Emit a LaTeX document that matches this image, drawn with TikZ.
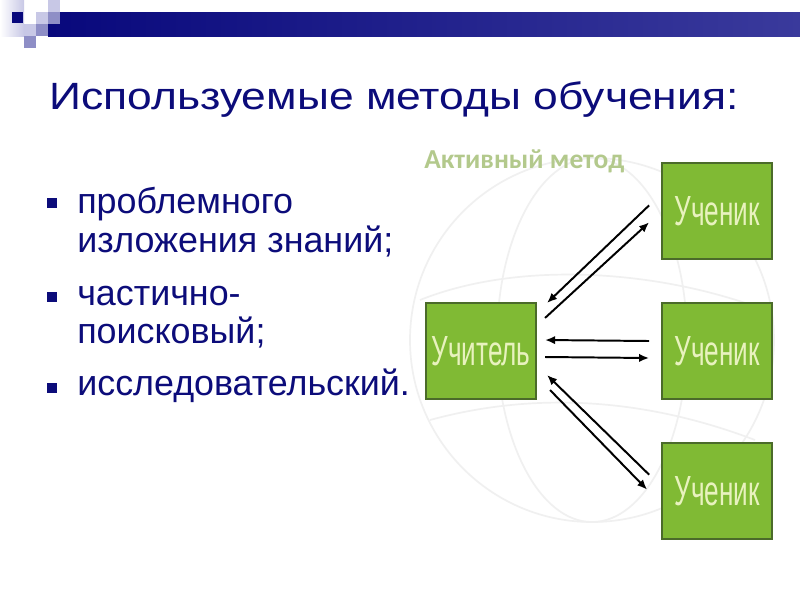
\documentclass[tikz,border=0pt]{standalone}
\usepackage{fontspec}
\setmainfont{Liberation Sans}
\newfontfamily\titlefont[FakeStretch=1.17]{Liberation Sans}
\newfontfamily\rolefont[FakeStretch=0.62]{Liberation Sans}
\newfontfamily\headfont{Carlito}
\usetikzlibrary{positioning,arrows.meta}
\definecolor{navy}{HTML}{0C0C7A}
\definecolor{barleft}{HTML}{08087C}
\definecolor{barright}{HTML}{3A3A9C}
\definecolor{tilemid}{HTML}{8E8EC6}
\definecolor{tilelight}{HTML}{C8C8E6}
\definecolor{leaf}{HTML}{80BA34}
\definecolor{leafline}{HTML}{4B6B2A}
\definecolor{leaftext}{HTML}{E8F2BE}
\definecolor{palegreen}{HTML}{B3C98C}
\tikzset{role/.style={draw=leafline,line width=1.5pt,fill=leaf,minimum width=2.75cm,minimum height=2.4cm,inner sep=0pt,font=\rolefont\fontsize{30}{30}\selectfont,text=leaftext},
item/.style={anchor=base west,inner sep=0pt,text=navy,font=\fontsize{25.5}{28}\selectfont},
dot/.style={fill=navy,minimum size=7pt,inner sep=0pt},
link/.style={draw=black,-{Latex[length=2.5mm,width=2.1mm]},line width=1.4pt},
globe/.style={draw=black!6,line width=1.2pt}}

\begin{document}
\begin{tikzpicture}[x=0.025cm,y=-0.025cm,node distance=1.05cm and 3.1cm]
\useasboundingbox (0,0) rectangle (800,600);
\fill[white] (0,0) rectangle (800,600);
\shade[left color=white,right color=tilelight] (0,0) rectangle (24,36);
\shade[left color=barleft,right color=barright] (48,12) rectangle (800,36);
\fill[barleft] (12,12) rectangle (23,23);
\fill[tilelight] (48,0) rectangle (60,12);
\fill[tilelight] (36,12) rectangle (48,24);
\fill[tilemid] (48,12) rectangle (60,24);
\fill[tilelight] (24,24) rectangle (36,36);
\fill[tilemid] (36,24) rectangle (48,36);
\fill[tilemid] (24,36) rectangle (36,48);
\node[anchor=base west,inner sep=0pt,text=navy,font=\titlefont\fontsize{27}{30}\selectfont] (title) at (49,109) {Используемые методы обучения:};
\node[dot] (b1) at (52,203) {};
\node[dot] (b2) at (52,297) {};
\node[dot] (b3) at (52,388) {};
\node[item] (i1) at (77,213) {проблемного};
\node[item] (i1b) at (77,252) {изложения знаний;};
\node[item] (i2) at (77,305) {частично-};
\node[item] (i2b) at (77,343) {поисковый;};
\node[item] (i3) at (77,395) {исследовательский.};
\draw[globe] (592,340) circle (182);
\draw[globe] (592,340) ellipse (95 and 182);
\draw[globe] (420,300) .. controls (520,260) and (660,270) .. (765,310);
\draw[globe] (430,420) .. controls (540,390) and (650,400) .. (755,440);
\node[anchor=base west,inner sep=0pt,text=palegreen,font=\headfont\bfseries\fontsize{19.5}{22}\selectfont] (head) at (424,168) {Активный метод};
\node[role] (ut) at (481,351) {Учитель};
\node[role,right=of ut] (u2) {Ученик};
\node[role,above=of u2] (u1) {Ученик};
\node[role,below=of u2] (u3) {Ученик};
\draw[link] ([shift={(-12,-5.5)}]u1.west) -- ([shift={(10,1)}]ut.north east);
\draw[link] ([shift={(8,16)}]ut.north east) -- ([shift={(-12,11.5)}]u1.west);
\draw[link] ([shift={(-12,-10)}]u2.west) -- ([shift={(8,-11)}]ut.east);
\draw[link] ([shift={(8,6)}]ut.east) -- ([shift={(-12,7)}]u2.west);
\draw[link] ([shift={(-12,-16.5)}]u3.west) -- ([shift={(10,-25)}]ut.south east);
\draw[link] ([shift={(13,-10)}]ut.south east) -- ([shift={(-14,-1.5)}]u3.west);
\end{tikzpicture}
\end{document}
